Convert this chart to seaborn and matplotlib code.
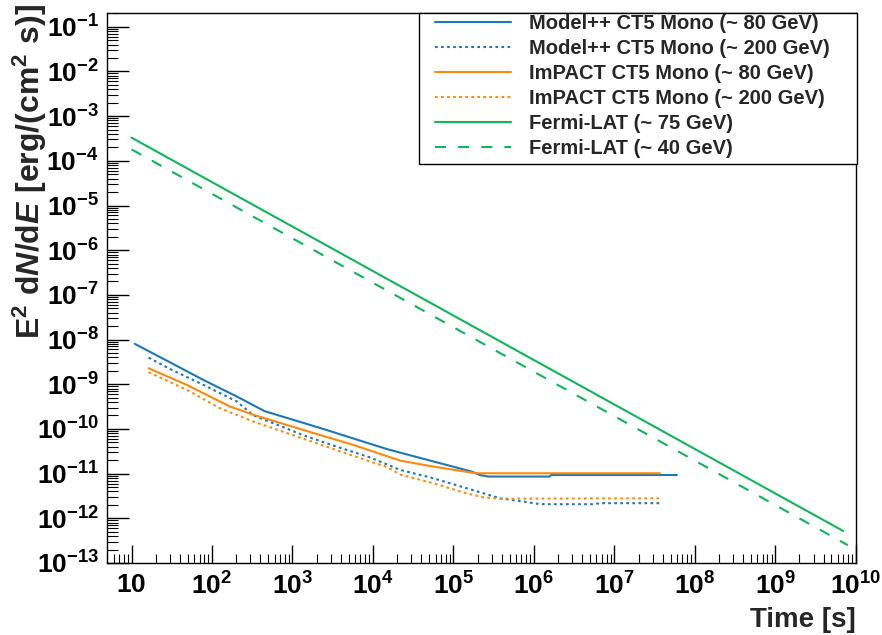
import numpy as np
import pandas as pd
import matplotlib
matplotlib.use('Agg')
import matplotlib.pyplot as plt
import seaborn as sns
from matplotlib.patches import Rectangle
from matplotlib.ticker import FixedLocator, FuncFormatter, NullFormatter

# values
mpp80_t = [11, 30, 78, 204, 450, 2210, 5730, 1.49e4, 2.18e4, 5.6e4, 1.69e5, 2.14e5, 2.72e5, 1.55e6, 1.65e6, 6e7]
mpp80_f = [8e-9, 3.1e-9, 1.25e-9, 5.3e-10, 2.5e-10, 1.05e-10, 6.1e-11, 3.55e-11, 2.95e-11, 1.88e-11, 1.11e-11,
           9.3e-12, 8.6e-12, 8.6e-12, 9.3e-12, 9.3e-12]

mpp200_t = [16.3, 30, 78, 204, 328, 640, 1370, 3560, 9230, 2.18e4, 5.6e4, 1.47e5, 3.8e5, 7.4e5, 1.19e6, 5.5e6, 6.6e6, 3.7e7]
mpp200_f = [3.94e-9, 2.2e-9, 9.7e-10, 4.1e-10, 2.0e-10, 1.25e-10, 7.2e-11, 4.0e-11, 2.3e-11, 1.21e-11, 7.9e-12, 4.7e-12,
            2.8e-12, 2.37e-12, 2.07e-12, 2.07e-12, 2.18e-12, 2.18e-12]

imp80_t = [16.3, 49, 168, 330, 850, 2200, 5700, 1.5e4, 2.2e4, 5.6e4, 1.7e5, 1.95e5, 3.7e7]
imp80_f = [2.28e-9, 9.6e-10, 3.16e-10, 2.06e-10, 1.23e-10, 7.3e-11, 4.4e-11, 2.45e-11, 1.95e-11, 1.44e-11,
           1.05e-11, 1.02e-11, 1.02e-11]

imp200_t = [16.3, 49, 126, 328, 850, 2200, 5700, 1.5e4, 2.2e4, 5.6e4, 1.47e5, 2.36e5, 3.8e5, 3.7e7]
imp200_f = [1.86e-9, 7.45e-10, 2.9e-10, 1.46e-10, 8.1e-11, 4.5e-11, 2.5e-11, 1.4e-11, 9.5e-12, 6.1e-12,
            3.6e-12, 2.95e-12, 2.75e-12, 2.8e-12]

fermi75_t = [10, 7e9]
fermi75_f = [3.3e-4, 5.2e-13]
fermi40_t = [10, 8e9]
fermi40_f = [1.8e-4, 2.5e-13]

labels = ['Model++ CT5 Mono (~ 80 GeV)', 'Model++ CT5 Mono (~ 200 GeV)',
          'ImPACT CT5 Mono (~ 80 GeV)', 'ImPACT CT5 Mono (~ 200 GeV)',
          'Fermi-LAT (~ 75 GeV)', 'Fermi-LAT (~ 40 GeV)']

sns.set_theme(style='ticks')
plt.rcParams['font.family'] = ['Liberation Sans', 'DejaVu Sans']
plt.rcParams['font.weight'] = 'bold'
plt.rcParams['mathtext.fontset'] = 'custom'
plt.rcParams['mathtext.rm'] = 'Liberation Sans:bold'
plt.rcParams['mathtext.bf'] = 'Liberation Sans:bold'
plt.rcParams['mathtext.it'] = 'Liberation Sans:bold:italic'
plt.rcParams['mathtext.bfit'] = 'Liberation Sans:bold:italic'

blue = '#1f77b4'
orange = '#ff8a12'
green = '#12b35a'
dot = (0, (1.3, 1.6))
dash = (0, (5.3, 5.8))

series = [
    (mpp80_t, mpp80_f, blue, '-'),
    (mpp200_t, mpp200_f, blue, dot),
    (imp80_t, imp80_f, orange, '-'),
    (imp200_t, imp200_f, orange, dot),
    (fermi75_t, fermi75_f, green, '-'),
    (fermi40_t, fermi40_f, green, dash),
]

fig = plt.figure(figsize=(8.82, 6.35), dpi=100)
ax = fig.add_axes([107.3 / 882, 1 - 563 / 635, 748.4 / 882, 549.7 / 635])

for (t, f, c, ls), lab in zip(series, labels):
    df = pd.DataFrame({'t': t, 'f': f})
    sns.lineplot(data=df, x='t', y='f', ax=ax, color=c, linestyle=ls, lw=1.5,
                 estimator=None, sort=False, label=lab)

ax.set_xscale('log')
ax.set_yscale('log')
ax.set_xlim(5, 1e10)
ax.set_ylim(1e-13, 0.2)

xmaj = [10.0 ** k for k in range(1, 11)]
ymaj = [10.0 ** k for k in range(-13, 0)]
ax.xaxis.set_major_locator(FixedLocator(xmaj))
ax.yaxis.set_major_locator(FixedLocator(ymaj))
ax.xaxis.set_minor_locator(FixedLocator([m * 10.0 ** k for k in range(0, 10) for m in range(2, 10)]))
ax.yaxis.set_minor_locator(FixedLocator([m * 10.0 ** k for k in range(-14, 0) for m in range(2, 10)]))
ax.xaxis.set_minor_formatter(NullFormatter())
ax.yaxis.set_minor_formatter(NullFormatter())


def fmt(v, pos):
    k = int(round(np.log10(v)))
    if k == 1:
        return r'$\mathbf{10}$'
    return r'$\mathbf{10^{%d}}$' % k


ax.xaxis.set_major_formatter(FuncFormatter(fmt))
ax.yaxis.set_major_formatter(FuncFormatter(fmt))
ax.tick_params(axis='both', which='both', direction='in', colors='black', labelsize=19)
ax.tick_params(axis='y', which='major', length=15.6, width=1, pad=6)
ax.tick_params(axis='y', which='minor', length=8, width=0.8)
ax.tick_params(axis='x', which='major', length=12.7, width=1, pad=7)
ax.tick_params(axis='x', which='minor', length=6.7, width=0.8)
for s in ax.spines.values():
    s.set_color('black')
    s.set_linewidth(1)

ax.set_xlabel('')
ax.set_ylabel('')
fig.text(855.7 / 882, 1 - 633 / 635, 'Time [s]', ha='right', va='bottom', fontsize=20, fontweight='bold')
fig.text(30 / 882, 1 - 4 / 635, r'$\mathbf{E^{2}\ d}\mathbfit{N}\mathbf{/d}\mathbfit{E}\mathbf{\ [erg/(cm^{2}\ s)]}$',
         rotation=90, ha='center', va='top', fontsize=23)

# legend box drawn as its own rectangle, entries placed inside it
ax.add_patch(Rectangle((0.4165, 0.7259), 0.5852, 0.2741, transform=ax.transAxes, fill=True,
                       facecolor='white', edgecolor='black', lw=1, clip_on=False, zorder=4))
leg = ax.legend(loc='upper left', bbox_to_anchor=(0.4379, 0.9987), frameon=False,
                borderaxespad=0, borderpad=0, handlelength=3.75, handletextpad=0.9,
                labelspacing=0.3, prop={'weight': 'bold', 'size': 14.5})
leg.set_zorder(5)

fig.savefig('out.png', dpi=100)
